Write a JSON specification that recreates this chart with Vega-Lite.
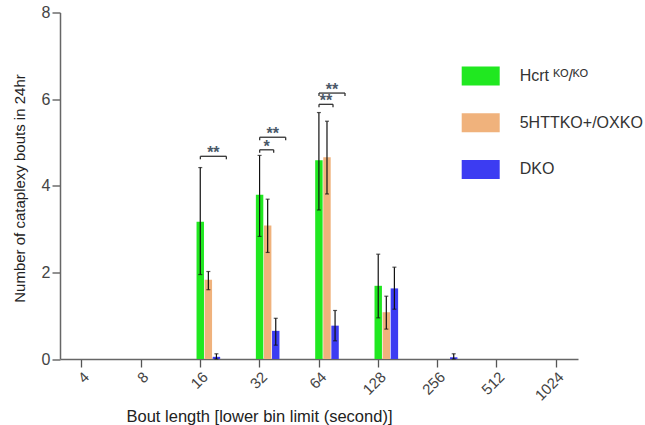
{
  "$schema": "https://vega.github.io/schema/vega-lite/v6.json",
  "width": 518,
  "height": 346.5,
  "autosize": "none",
  "padding": {"left": 60, "top": 12.5, "right": 67, "bottom": 66},
  "background": "white",
  "config": {
    "view": {"stroke": null},
    "font": "Liberation Sans",
    "axis": {
      "domainColor": "#666666",
      "domainWidth": 1.5,
      "tickColor": "#555555",
      "tickWidth": 1.3,
      "tickSize": 8,
      "labelFont": "Liberation Sans",
      "labelFontSize": 15,
      "labelColor": "#444444",
      "titleFont": "Liberation Sans",
      "titleFontSize": 15,
      "titleFontWeight": "normal",
      "titleColor": "#222222",
      "grid": false
    }
  },
  "datasets": {
    "bars": [
      {"bin": "16", "group": "Hcrt", "mean": 3.17, "lo": 1.95, "hi": 4.42},
      {"bin": "16", "group": "5HTTKO+/OXKO", "mean": 1.83, "lo": 1.6, "hi": 2.02},
      {"bin": "16", "group": "DKO", "mean": 0.05, "lo": 0.0, "hi": 0.12},
      {"bin": "32", "group": "Hcrt", "mean": 3.79, "lo": 2.83, "hi": 4.7},
      {"bin": "32", "group": "5HTTKO+/OXKO", "mean": 3.08, "lo": 2.46, "hi": 3.69},
      {"bin": "32", "group": "DKO", "mean": 0.65, "lo": 0.32, "hi": 0.94},
      {"bin": "64", "group": "Hcrt", "mean": 4.59, "lo": 3.44, "hi": 5.69},
      {"bin": "64", "group": "5HTTKO+/OXKO", "mean": 4.66, "lo": 3.81, "hi": 5.49},
      {"bin": "64", "group": "DKO", "mean": 0.77, "lo": 0.42, "hi": 1.12},
      {"bin": "128", "group": "Hcrt", "mean": 1.69, "lo": 0.95, "hi": 2.42},
      {"bin": "128", "group": "5HTTKO+/OXKO", "mean": 1.08, "lo": 0.69, "hi": 1.45},
      {"bin": "128", "group": "DKO", "mean": 1.63, "lo": 1.15, "hi": 2.12},
      {"bin": "256", "group": "DKO", "mean": 0.04, "lo": 0.0, "hi": 0.12}
    ],
    "sig": [
      {"bin": "16", "kind": "long", "y": 4.68, "label": "**"},
      {"bin": "32", "kind": "short", "y": 4.83, "label": "*"},
      {"bin": "32", "kind": "long", "y": 5.12, "label": "**"},
      {"bin": "64", "kind": "short", "y": 5.88, "label": "**"},
      {"bin": "64", "kind": "long", "y": 6.14, "label": "**"}
    ]
  },
  "encoding": {
    "x": {
      "field": "bin",
      "type": "ordinal",
      "scale": {
        "domain": ["4", "8", "16", "32", "64", "128", "256", "512", "1024"],
        "paddingInner": 0.268,
        "paddingOuter": 0
      },
      "axis": {
        "labelAngle": -45,
        "title": "Bout length [lower bin limit (second)]",
        "titleFontSize": 16.5,
        "titleX": 199,
        "titleY": 62,
        "titleAlign": "center",
        "titleBaseline": "alphabetic"
      }
    }
  },
  "layer": [
    {
      "data": {"name": "bars"},
      "mark": {"type": "bar"},
      "encoding": {
        "xOffset": {
          "field": "group",
          "type": "nominal",
          "scale": {"domain": ["Hcrt", "5HTTKO+/OXKO", "DKO"], "range": [17.9, 41.5], "paddingInner": 0.08, "paddingOuter": 0}
        },
        "y": {
          "field": "mean",
          "type": "quantitative",
          "scale": {"domain": [0, 8], "nice": false},
          "axis": {
            "values": [0, 2, 4, 6, 8],
            "labelPadding": 2,
            "labelFontSize": 16,
            "title": "Number of cataplexy bouts in 24hr",
            "titleX": -41,
            "titleY": 175.5,
            "titleAlign": "center",
            "titleBaseline": "middle",
            "titleAngle": -90
          }
        },
        "color": {
          "field": "group",
          "type": "nominal",
          "scale": {"domain": ["Hcrt", "5HTTKO+/OXKO", "DKO"], "range": ["#20E820", "#F0B27C", "#3C3CF2"]},
          "legend": {
            "title": null,
            "orient": "none",
            "legendX": 401.7,
            "legendY": 44.5,
            "symbolType": "M-1,-0.5H1V0.5H-1Z",
            "symbolSize": 1444,
            "symbolStrokeWidth": 0,
            "symbolOpacity": 1,
            "labelFont": "Liberation Sans",
            "labelFontSize": 16,
            "labelColor": "#333333",
            "labelOffset": 20,
            "rowPadding": 17.7,
            "labelExpr": "datum.label == 'Hcrt' ? 'Hcrt ᴷᴼ/ᴷᴼ' : datum.label"
          }
        }
      }
    },
    {
      "data": {"name": "bars"},
      "mark": {"type": "rule", "color": "#111111", "strokeWidth": 1.2},
      "encoding": {
        "xOffset": {"field": "group", "type": "nominal"},
        "y": {"field": "lo", "type": "quantitative"},
        "y2": {"field": "hi"}
      }
    },
    {
      "data": {"name": "bars"},
      "mark": {"type": "tick", "color": "#111111", "thickness": 1.2, "size": 4},
      "encoding": {
        "xOffset": {"field": "group", "type": "nominal"},
        "y": {"field": "hi", "type": "quantitative"}
      }
    },
    {
      "data": {"name": "bars"},
      "mark": {"type": "tick", "color": "#111111", "thickness": 1.2, "size": 4},
      "encoding": {
        "xOffset": {"field": "group", "type": "nominal"},
        "y": {"field": "lo", "type": "quantitative"}
      }
    },
    {
      "data": {"name": "sig"},
      "transform": [{"filter": "datum.kind == 'long'"}],
      "mark": {"type": "rule", "color": "#333333", "strokeWidth": 1.3, "xOffset": 0, "x2Offset": 26},
      "encoding": {
        "x2": {"field": "bin"},
        "y": {"field": "y", "type": "quantitative"}
      }
    },
    {
      "data": {"name": "sig"},
      "transform": [{"filter": "datum.kind == 'short'"}],
      "mark": {"type": "rule", "color": "#333333", "strokeWidth": 1.3, "xOffset": 0, "x2Offset": 14},
      "encoding": {
        "x2": {"field": "bin"},
        "y": {"field": "y", "type": "quantitative"}
      }
    },
    {
      "data": {"name": "sig"},
      "mark": {"type": "rule", "color": "#333333", "strokeWidth": 1.3, "xOffset": 0, "y2Offset": 3},
      "encoding": {
        "y": {"field": "y", "type": "quantitative"},
        "y2": {"field": "y"}
      }
    },
    {
      "data": {"name": "sig"},
      "transform": [{"filter": "datum.kind == 'long'"}],
      "mark": {"type": "rule", "color": "#333333", "strokeWidth": 1.3, "xOffset": 26, "y2Offset": 3},
      "encoding": {
        "y": {"field": "y", "type": "quantitative"},
        "y2": {"field": "y"}
      }
    },
    {
      "data": {"name": "sig"},
      "transform": [{"filter": "datum.kind == 'short'"}],
      "mark": {"type": "rule", "color": "#333333", "strokeWidth": 1.3, "xOffset": 14, "y2Offset": 3},
      "encoding": {
        "y": {"field": "y", "type": "quantitative"},
        "y2": {"field": "y"}
      }
    },
    {
      "data": {"name": "sig"},
      "transform": [{"filter": "datum.kind == 'long'"}],
      "mark": {"type": "text", "color": "#4A5868", "fontSize": 16, "fontWeight": "bold", "xOffset": 13, "dy": 2, "baseline": "alphabetic", "align": "center"},
      "encoding": {
        "y": {"field": "y", "type": "quantitative"},
        "text": {"field": "label"}
      }
    },
    {
      "data": {"name": "sig"},
      "transform": [{"filter": "datum.kind == 'short'"}],
      "mark": {"type": "text", "color": "#4A5868", "fontSize": 16, "fontWeight": "bold", "xOffset": 7, "dy": 2, "baseline": "alphabetic", "align": "center"},
      "encoding": {
        "y": {"field": "y", "type": "quantitative"},
        "text": {"field": "label"}
      }
    }
  ]
}
